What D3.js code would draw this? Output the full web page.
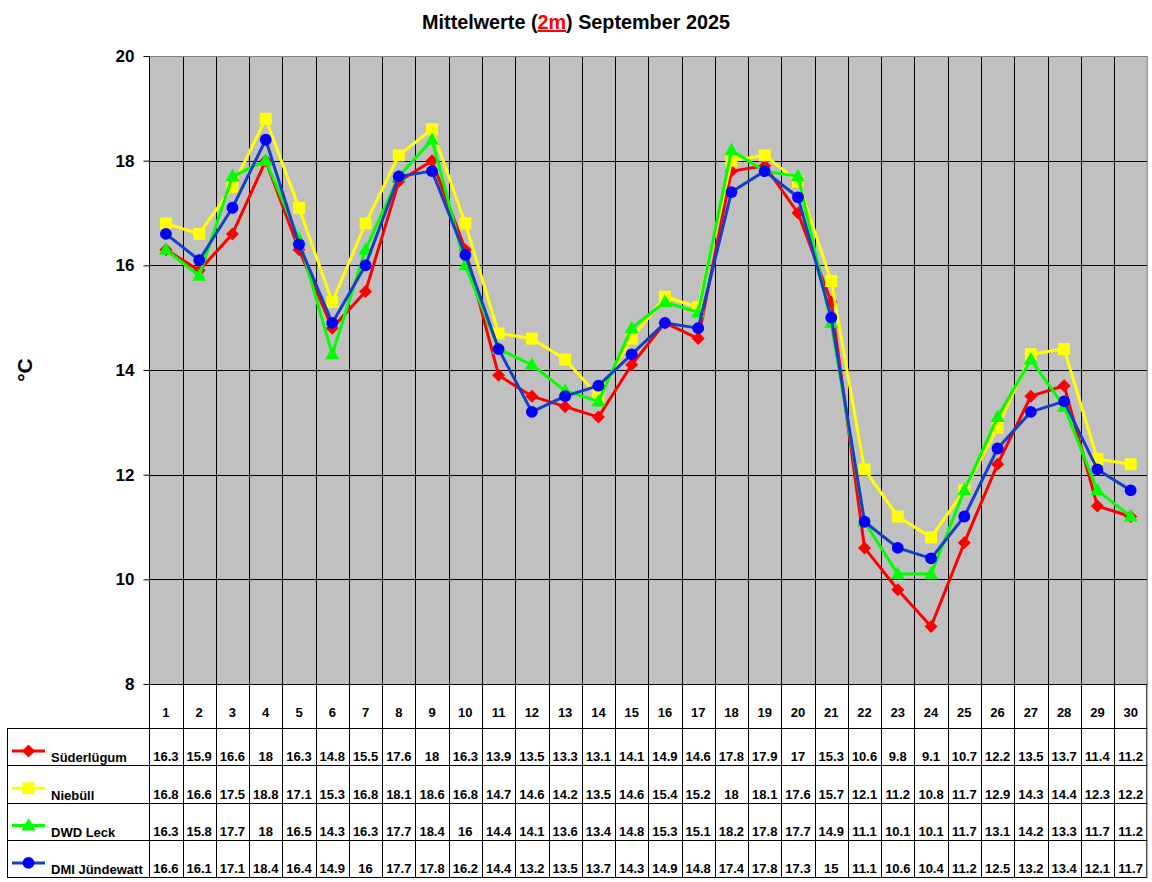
<!DOCTYPE html>
<html>
<head>
<meta charset="utf-8">
<script src="https://cdn.jsdelivr.net/npm/d3@7"></script>
<style>
  body { margin: 0; background: #fff; }
  svg { display: block; font-family: "Liberation Sans", Arial, sans-serif; font-weight: bold; }
</style>
</head>
<body>
<div class="chart"></div>
<script>
var days = d3.range(1, 31);
var suederluegum = [16.3,15.9,16.6,18,16.3,14.8,15.5,17.6,18,16.3,13.9,13.5,13.3,13.1,14.1,14.9,14.6,17.8,17.9,17,15.3,10.6,9.8,9.1,10.7,12.2,13.5,13.7,11.4,11.2];
var niebuell = [16.8,16.6,17.5,18.8,17.1,15.3,16.8,18.1,18.6,16.8,14.7,14.6,14.2,13.5,14.6,15.4,15.2,18,18.1,17.6,15.7,12.1,11.2,10.8,11.7,12.9,14.3,14.4,12.3,12.2];
var dwdLeck = [16.3,15.8,17.7,18,16.5,14.3,16.3,17.7,18.4,16,14.4,14.1,13.6,13.4,14.8,15.3,15.1,18.2,17.8,17.7,14.9,11.1,10.1,10.1,11.7,13.1,14.2,13.3,11.7,11.2];
var dmiJuendewatt = [16.6,16.1,17.1,18.4,16.4,14.9,16,17.7,17.8,16.2,14.4,13.2,13.5,13.7,14.3,14.9,14.8,17.4,17.8,17.3,15,11.1,10.6,10.4,11.2,12.5,13.2,13.4,12.1,11.7];
var yTicks = [8,10,12,14,16,18,20];

var series = [
  {name: "Süderlügum", values: suederluegum, line: "#ff0000", fill: "#ff0000", shape: "diamond"},
  {name: "Niebüll", values: niebuell, line: "#ffff00", fill: "#ffff00", shape: "square"},
  {name: "DWD Leck", values: dwdLeck, line: "#00ff00", fill: "#00ff00", shape: "triangle"},
  {name: "DMI Jündewatt", values: dmiJuendewatt, line: "#1440c8", fill: "#0000ff", shape: "circle"}
];

var W = 1152, H = 882;
var plotLeft = 149.3, plotRight = 1147.3, plotTop = 56, plotBottom = 684;
var tableLeft = 7, headBottom = 728, rowH = 37.3;

var svg = d3.select(".chart").append("svg").attr("width", W).attr("height", H);

var x = d3.scaleBand().domain(days).range([plotLeft, plotRight]);
var y = d3.scaleLinear().domain([8, 20]).range([plotBottom, plotTop]);
var cx = function(d) { return x(d) + x.bandwidth() / 2; };

function marker(shape) {
  if (shape == "diamond") return "M0,-6.5L6.5,0L0,6.5L-6.5,0Z";
  if (shape == "square") return "M-6,-6H6V6H-6Z";
  if (shape == "triangle") return "M0,-7.5L7,5L-7,5Z";
  return d3.symbol(d3.symbolCircle, 110)();
}

// title
var title = svg.append("text").attr("x", 576).attr("y", 29).attr("text-anchor", "middle")
  .style("font-size", "19.8px");
title.append("tspan").text("Mittelwerte (");
title.append("tspan").attr("fill", "#ff0000").attr("text-decoration", "underline").text("2m");
title.append("tspan").text(") September 2025");

// plot background
svg.append("rect").attr("x", plotLeft).attr("y", plotTop).attr("width", plotRight - plotLeft).attr("height", plotBottom - plotTop)
  .attr("fill", "#c0c0c0");

// horizontal grid
svg.append("g").selectAll("line").data(yTicks.filter(function(t) { return t > 8 && t < 20; }))
  .enter().append("line")
  .attr("x1", plotLeft).attr("x2", plotRight)
  .attr("y1", function(d) { return Math.round(y(d)) + 0.5; })
  .attr("y2", function(d) { return Math.round(y(d)) + 0.5; })
  .attr("stroke", "#000");

// vertical grid through chart and table
var tableBottom = headBottom + 4 * rowH;
svg.append("g").selectAll("line").data(days.slice(1))
  .enter().append("line")
  .attr("x1", function(d) { return Math.round(x(d)) + 0.5; })
  .attr("x2", function(d) { return Math.round(x(d)) + 0.5; })
  .attr("y1", plotTop).attr("y2", tableBottom)
  .attr("stroke", "#000");

// frame
svg.append("line").attr("x1", plotLeft).attr("x2", plotRight).attr("y1", plotTop + 0.5).attr("y2", plotTop + 0.5).attr("stroke", "#808080");
svg.append("line").attr("x1", plotRight).attr("x2", plotRight).attr("y1", plotTop).attr("y2", plotBottom).attr("stroke", "#808080");
svg.append("line").attr("x1", Math.round(plotLeft) + 0.5).attr("x2", Math.round(plotLeft) + 0.5).attr("y1", plotTop).attr("y2", tableBottom).attr("stroke", "#000");
svg.append("line").attr("x1", plotLeft).attr("x2", plotRight).attr("y1", plotBottom + 0.5).attr("y2", plotBottom + 0.5).attr("stroke", "#000");

// y axis
var yAxis = svg.append("g").attr("transform", "translate(" + (Math.round(plotLeft) + 0.5) + ",0)")
  .call(d3.axisLeft(y).tickValues(yTicks).tickSize(6).tickPadding(9).tickFormat(d3.format("d")));
yAxis.select(".domain").remove();
yAxis.selectAll("line").attr("stroke", "#000");
yAxis.selectAll("text").style("font-size", "17px").style("font-family", "Liberation Sans, Arial, sans-serif")
  .style("font-weight", "bold").attr("fill", "#000");

svg.append("text").attr("transform", "translate(32,370) rotate(-90)").attr("text-anchor", "middle")
  .style("font-size", "21px").text("°C");

// lines and markers
series.forEach(function(s) {
  var pts = days.map(function(d, i) { return [cx(d), y(s.values[i])]; });
  svg.append("path").attr("d", d3.line()(pts)).attr("fill", "none")
    .attr("stroke", s.line).attr("stroke-width", 3).attr("stroke-linejoin", "round");
  svg.append("g").selectAll("path").data(pts).enter().append("path")
    .attr("d", marker(s.shape))
    .attr("transform", function(p) { return "translate(" + p[0] + "," + p[1] + ")"; })
    .attr("fill", s.fill);
});

// table
svg.append("g").selectAll("text").data(days).enter().append("text")
  .attr("x", cx).attr("y", 717).attr("text-anchor", "middle")
  .style("font-size", "13px").text(function(d) { return d; });

svg.append("line").attr("x1", plotRight - 0.5).attr("x2", plotRight - 0.5).attr("y1", plotBottom).attr("y2", tableBottom).attr("stroke", "#000");
svg.append("line").attr("x1", tableLeft + 0.5).attr("x2", tableLeft + 0.5).attr("y1", headBottom).attr("y2", tableBottom).attr("stroke", "#000");
d3.range(5).forEach(function(r) {
  var yy = Math.round(headBottom + r * rowH) + 0.5;
  svg.append("line").attr("x1", tableLeft).attr("x2", plotRight).attr("y1", yy).attr("y2", yy).attr("stroke", "#000");
});

series.forEach(function(s, r) {
  var rowTop = headBottom + r * rowH;
  var rowBot = rowTop + rowH;
  var g = svg.append("g");
  g.append("line").attr("x1", 12).attr("x2", 45).attr("y1", rowTop + 23).attr("y2", rowTop + 23)
    .attr("stroke", s.line).attr("stroke-width", 3);
  g.append("path").attr("d", marker(s.shape))
    .attr("transform", "translate(28.5," + (rowTop + 23) + ")").attr("fill", s.fill);
  g.append("text").attr("x", 51).attr("y", rowBot - 3).style("font-size", "13px").text(s.name);
  g.selectAll("text.val").data(s.values).enter().append("text").attr("class", "val")
    .attr("x", function(v, i) { return cx(days[i]); }).attr("y", rowBot - 4)
    .attr("text-anchor", "middle").style("font-size", "13px")
    .text(function(v) { return v; });
});
</script>
</body>
</html>
